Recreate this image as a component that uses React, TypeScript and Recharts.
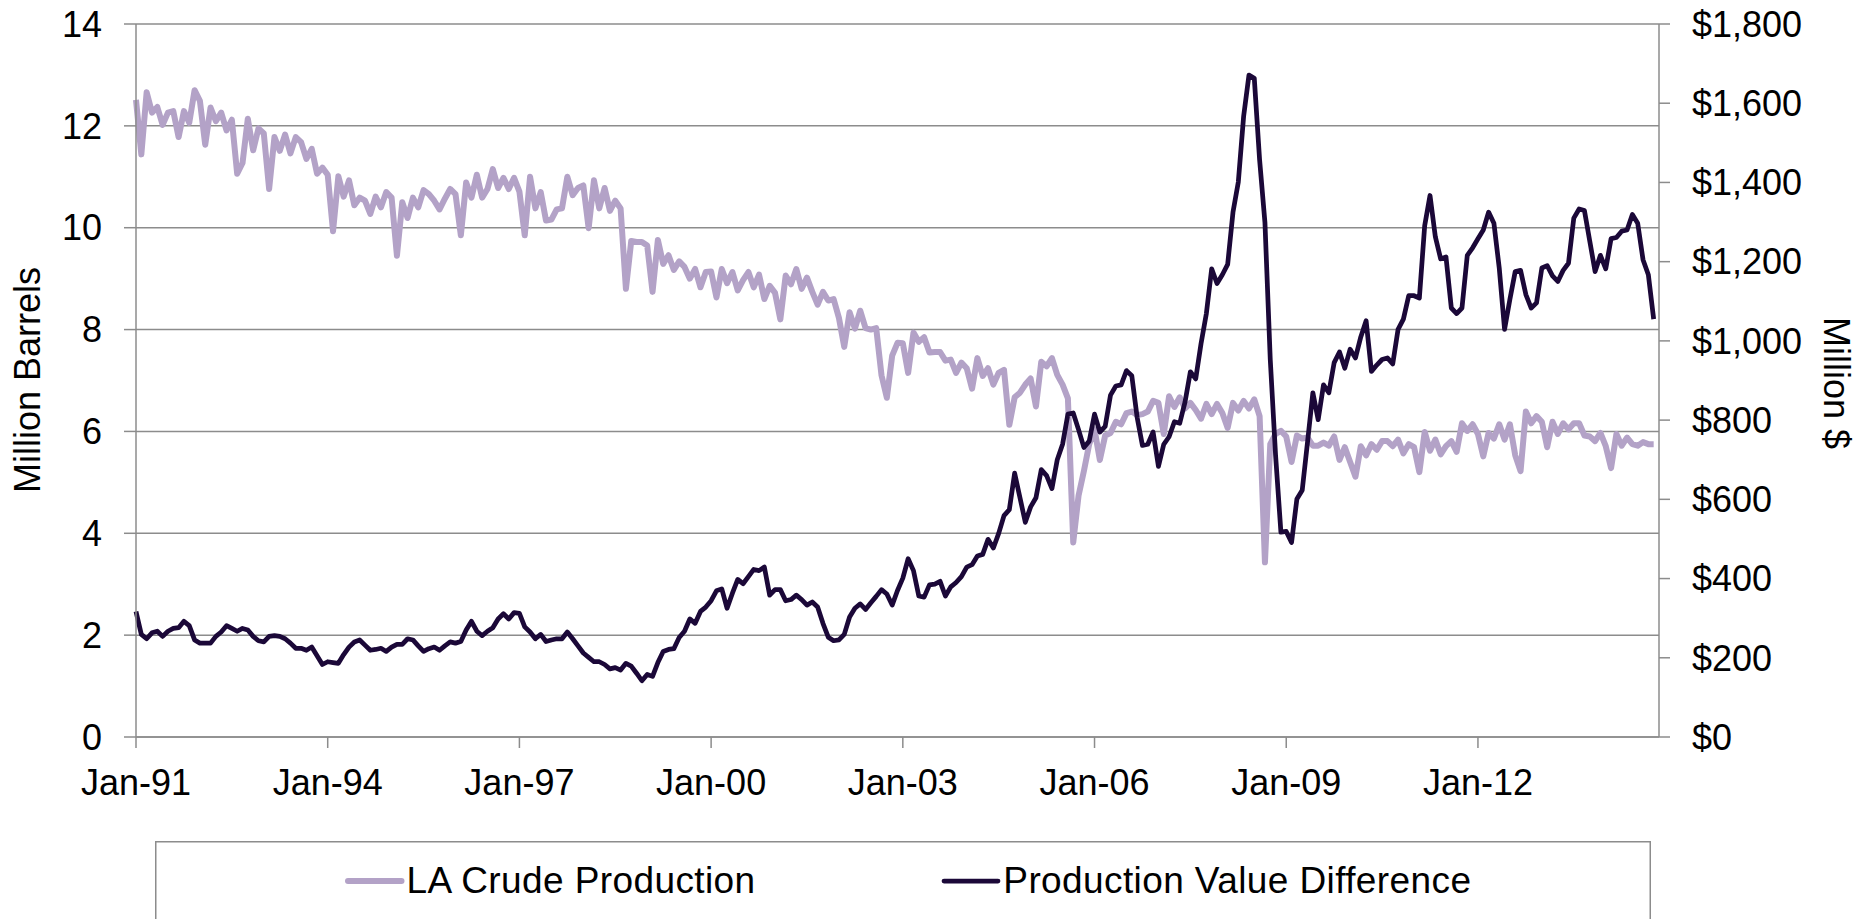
import React from 'react';
import { LineChart, Line, XAxis, YAxis, CartesianGrid, Legend } from 'recharts';

const FONT = '"Liberation Sans", Arial, Helvetica, sans-serif';
const LIGHT = '#B3A2C7';
const DARK = '#1B0838';
const GRID = '#8C8C8C';

// x-axis: monthly index from Jan-91
const tickPositions = [0, 36, 72, 108, 144, 180, 216, 252];
const tickLabels = ['Jan-91', 'Jan-94', 'Jan-97', 'Jan-00', 'Jan-03', 'Jan-06', 'Jan-09', 'Jan-12'];
const leftTicks = [0, 2, 4, 6, 8, 10, 12, 14];
const rightTicks = [0, 200, 400, 600, 800, 1000, 1200, 1400, 1600, 1800];

// LA Crude Production (million barrels), Jan-91 .. Oct-14
const laCrudeProduction = [
  12.51, 11.44, 12.66, 12.26, 12.37, 12.02, 12.26, 12.29, 11.78, 12.29, 12.06, 12.70,
  12.49, 11.63, 12.36, 12.09, 12.26, 11.91, 12.12, 11.06, 11.27, 12.14, 11.52, 11.95,
  11.85, 10.76, 11.78, 11.51, 11.83, 11.46, 11.78, 11.68, 11.35, 11.55, 11.06, 11.18,
  11.04, 9.93, 11.01, 10.61, 10.93, 10.44, 10.59, 10.53, 10.27, 10.61, 10.40, 10.70,
  10.59, 9.45, 10.50, 10.19, 10.59, 10.40, 10.74, 10.66, 10.53, 10.36, 10.57, 10.76,
  10.66, 9.85, 10.89, 10.59, 11.04, 10.59, 10.76, 11.15, 10.78, 10.98, 10.76, 10.98,
  10.71, 9.85, 11.00, 10.38, 10.70, 10.14, 10.16, 10.36, 10.38, 11.00, 10.64, 10.78,
  10.83, 9.99, 10.93, 10.38, 10.78, 10.33, 10.53, 10.38, 8.80, 9.74, 9.72, 9.72,
  9.65, 8.74, 9.76, 9.29, 9.46, 9.17, 9.34, 9.23, 9.00, 9.19, 8.83, 9.13,
  9.14, 8.63, 9.19, 8.91, 9.13, 8.77, 8.97, 9.13, 8.83, 9.08, 8.60, 8.86,
  8.72, 8.20, 9.06, 8.89, 9.19, 8.80, 9.02, 8.74, 8.49, 8.74, 8.57, 8.60,
  8.23, 7.66, 8.34, 8.02, 8.37, 8.03, 8.00, 8.03, 7.10, 6.66, 7.49, 7.74,
  7.73, 7.15, 7.94, 7.76, 7.85, 7.55, 7.56, 7.56, 7.39, 7.41, 7.15, 7.35,
  7.24, 6.84, 7.44, 7.09, 7.24, 6.92, 7.15, 7.21, 6.13, 6.67, 6.76, 6.92,
  7.04, 6.49, 7.37, 7.28, 7.44, 7.11, 6.92, 6.65, 3.82, 4.74, 5.22, 5.75,
  6.04, 5.44, 5.92, 5.97, 6.19, 6.14, 6.36, 6.39, 6.32, 6.34, 6.39, 6.60,
  6.56, 5.95, 6.69, 6.48, 6.67, 6.45, 6.56, 6.42, 6.25, 6.54, 6.34, 6.54,
  6.36, 6.07, 6.56, 6.41, 6.60, 6.45, 6.63, 6.30, 3.43, 5.75, 5.95, 6.01,
  5.90, 5.40, 5.92, 5.86, 5.88, 5.72, 5.72, 5.78, 5.72, 5.90, 5.44, 5.69,
  5.40, 5.11, 5.71, 5.53, 5.75, 5.64, 5.81, 5.81, 5.71, 5.84, 5.57, 5.75,
  5.69, 5.20, 5.99, 5.62, 5.84, 5.55, 5.71, 5.81, 5.60, 6.16, 6.01, 6.14,
  5.95, 5.51, 5.97, 5.86, 6.14, 5.84, 6.14, 5.53, 5.22, 6.39, 6.16, 6.30,
  6.19, 5.69, 6.19, 5.95, 6.16, 6.04, 6.16, 6.16, 5.92, 5.90, 5.81, 5.97,
  5.71, 5.28, 5.95, 5.72, 5.88, 5.75, 5.72, 5.79, 5.75, 5.75,
];

// Production Value Difference (million $), Jan-91 .. Oct-14
const productionValueDifference = [
  317, 259, 248, 263, 267, 254, 267, 274, 276, 292, 281, 245,
  237, 237, 237, 254, 265, 281, 274, 267, 274, 270, 254, 243,
  240, 254, 256, 254, 248, 237, 224, 224, 219, 227, 205, 183,
  190, 188, 186, 208, 227, 240, 245, 232, 219, 221, 224, 216,
  227, 234, 234, 248, 245, 230, 216, 223, 227, 219, 230, 240,
  237, 241, 270, 292, 267, 256, 267, 276, 298, 311, 298, 314,
  312, 278, 265, 248, 259, 241, 245, 248, 248, 265, 248, 230,
  212, 201, 190, 190, 183, 172, 175, 169, 186, 179, 161, 142,
  158, 153, 188, 216, 221, 223, 251, 267, 298, 287, 317, 328,
  344, 369, 374, 325, 363, 398, 387, 405, 423, 420, 429, 358,
  372, 372, 344, 347, 358, 347, 333, 341, 328, 287, 252, 243,
  245, 259, 303, 325, 336, 322, 339, 355, 372, 361, 333, 370,
  401, 450, 420, 356, 353, 384, 386, 393, 356, 379, 390, 405,
  429, 435, 457, 461, 499, 477, 514, 559, 574, 666, 604, 542,
  581, 604, 675, 660, 627, 700, 739, 815, 818, 776, 731, 747,
  815, 770, 784, 863, 886, 889, 925, 912, 807, 736, 739, 770,
  683, 739, 758, 796, 792, 846, 922, 904, 993, 1069, 1182, 1145,
  1167, 1193, 1325, 1401, 1567, 1671, 1663, 1457, 1299, 953, 711, 517,
  519, 491, 601, 623, 745, 869, 801, 889, 869, 945, 972, 931,
  979, 957, 1010, 1051, 923, 939, 953, 957, 942, 1029, 1055, 1114,
  1114, 1108, 1291, 1367, 1263, 1207, 1212, 1083, 1069, 1083, 1216, 1235,
  1258, 1280, 1325, 1297, 1184, 1029, 1105, 1175, 1178, 1117, 1083, 1096,
  1184, 1190, 1164, 1150, 1178, 1196, 1310, 1333, 1329, 1252, 1175, 1216,
  1182, 1258, 1261, 1277, 1280, 1319, 1297, 1205, 1167, 1055,
];

const seriesNames = ['LA Crude Production', 'Production Value Difference'];

const data = laCrudeProduction.map((v, i) => ({
  month: i,
  production: v,
  value: productionValueDifference[i],
}));

const LegendBox = () => (
  <svg width={1496} height={78} style={{ display: 'block' }}>
    <rect x={0.75} y={0.75} width={1494.5} height={140} fill="#fff" stroke={GRID} strokeWidth={1.5} />
    <line x1={193} y1={40} x2={246.5} y2={40} stroke={LIGHT} strokeWidth={6} strokeLinecap="round" />
    <text x={251.5} y={51.6} fontSize={37} letterSpacing={0.4} fontFamily={FONT} fill="#000">{seriesNames[0]}</text>
    <line x1={789} y1={40} x2={843} y2={40} stroke={DARK} strokeWidth={4.75} strokeLinecap="round" />
    <text x={848.3} y={51.6} fontSize={37} letterSpacing={0.4} fontFamily={FONT} fill="#000">{seriesNames[1]}</text>
  </svg>
);

const leftLabel = () => (
  <text
    x={27}
    y={380}
    transform="rotate(-90, 27, 380)"
    textAnchor="middle"
    dominantBaseline="central"
    fontSize={36}
    fontFamily={FONT}
    fill="#000"
  >
    Million Barrels
  </text>
);

const rightLabel = () => (
  <text
    x={1836}
    y={383}
    transform="rotate(90, 1836, 383)"
    textAnchor="middle"
    dominantBaseline="central"
    fontSize={36}
    fontFamily={FONT}
    fill="#000"
  >
    Million $
  </text>
);

const tickStyle = { fill: '#000', fontSize: 36, fontFamily: FONT };

export default function App() {
  return (
    <div style={{ position: 'absolute', left: 0, top: 0, width: 1864, height: 919, background: '#fff', fontFamily: FONT }}>
      <LineChart
        width={1864}
        height={919}
        data={data}
        margin={{ top: 24, right: 0, bottom: 122, left: 0 }}
      >
        <CartesianGrid yAxisId="left" vertical={false} stroke={GRID} strokeWidth={1.5} />
        <XAxis
          type="number"
          dataKey="month"
          domain={[0, 286]}
          ticks={tickPositions}
          interval={0}
          tickFormatter={(v: number) => tickLabels[tickPositions.indexOf(v)] ?? ''}
          height={60}
          tickSize={11}
          tickMargin={21}
          tick={tickStyle}
          axisLine={{ stroke: GRID, strokeWidth: 1.5 }}
          tickLine={{ stroke: GRID, strokeWidth: 1.5 }}
        />
        <YAxis
          yAxisId="left"
          orientation="left"
          domain={[0, 14]}
          ticks={leftTicks}
          interval={0}
          width={136}
          tickSize={12}
          tickMargin={22}
          tick={tickStyle}
          axisLine={{ stroke: GRID, strokeWidth: 1.5 }}
          tickLine={{ stroke: GRID, strokeWidth: 1.5 }}
          label={leftLabel}
        />
        <YAxis
          yAxisId="right"
          orientation="right"
          domain={[0, 1800]}
          ticks={rightTicks}
          interval={0}
          width={205}
          tickSize={11}
          tickMargin={22}
          tick={tickStyle}
          tickFormatter={(v: number) => '$' + v.toLocaleString('en-US')}
          axisLine={{ stroke: GRID, strokeWidth: 1.5 }}
          tickLine={{ stroke: GRID, strokeWidth: 1.5 }}
          label={rightLabel}
        />
        <Legend
          layout="horizontal"
          verticalAlign="middle"
          align="center"
          content={<LegendBox />}
          wrapperStyle={{ position: 'absolute', left: 155, top: 841, width: 1496, height: 78, margin: 0 }}
        />
        <Line
          yAxisId="left"
          type="linear"
          dataKey="production"
          name={seriesNames[0]}
          stroke={LIGHT}
          strokeWidth={6}
          strokeLinejoin="round"
          dot={false}
          activeDot={false}
          isAnimationActive={false}
        />
        <Line
          yAxisId="right"
          type="linear"
          dataKey="value"
          name={seriesNames[1]}
          stroke={DARK}
          strokeWidth={4.75}
          strokeLinejoin="round"
          dot={false}
          activeDot={false}
          isAnimationActive={false}
        />
      </LineChart>
    </div>
  );
}
